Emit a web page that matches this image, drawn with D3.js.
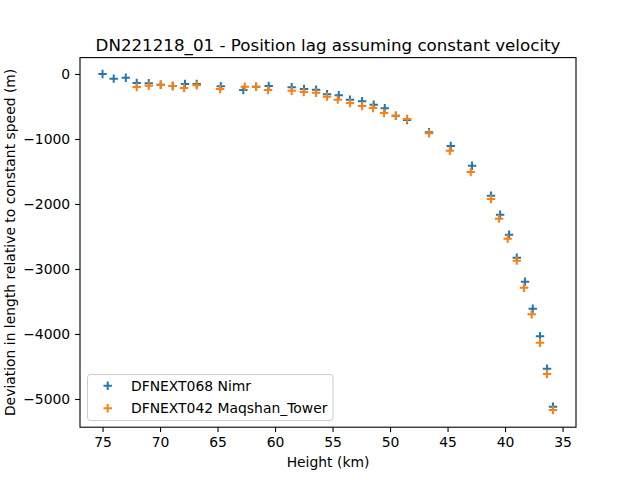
<!DOCTYPE html>
<html><head><meta charset="utf-8">
<script src="https://cdn.jsdelivr.net/npm/d3@7"></script>
<style>body{margin:0;background:#fff}svg{display:block}text{font-family:"DejaVu Sans",sans-serif;fill:#000}</style>
</head><body>
<script>
const titleText = "DN221218_01 - Position lag assuming constant velocity";
const xLabel = "Height (km)";
const yLabel = "Deviation in length relative to constant speed (m)";
const seriesNames = ["DFNEXT068 Nimr", "DFNEXT042 Maqshan_Tower"];
const seriesColors = ["#1f77b4", "#ff7f0e"];
const xTicks = [75, 70, 65, 60, 55, 50, 45, 40, 35];
const yTicks = [0, -1000, -2000, -3000, -4000, -5000];

const nimrHeight = [75.0, 74.03, 72.98, 72.03, 70.98, 69.94, 68.90, 67.83, 66.81, 64.72, 62.76, 61.65, 60.55, 58.55, 57.48, 56.43, 55.48, 54.46, 53.48, 52.43, 51.42, 50.46, 49.50, 48.52, 46.61, 44.72, 42.87, 41.22, 40.43, 39.65, 38.98, 38.26, 37.59, 36.96, 36.35, 35.83];
const nimrDev    = [0, -72, -57, -138, -143, -165, -185, -154, -154, -189, -246, -195, -185, -205, -231, -242, -312, -328, -395, -420, -472, -528, -642, -708, -897, -1108, -1411, -1872, -2165, -2472, -2826, -3195, -3611, -4035, -4534, -5118];
const maqHeight  = [72.03, 70.98, 69.94, 68.90, 67.91, 66.81, 64.78, 62.63, 61.65, 60.61, 58.55, 57.50, 56.43, 55.48, 54.55, 53.48, 52.43, 51.48, 50.52, 49.50, 48.52, 46.61, 44.80, 42.98, 41.22, 40.52, 39.77, 38.98, 38.35, 37.68, 36.96, 36.35, 35.83];
const maqDev     = [-200, -180, -165, -185, -215, -174, -231, -195, -195, -246, -257, -277, -288, -349, -395, -446, -492, -523, -600, -642, -692, -912, -1180, -1508, -1923, -2226, -2534, -2872, -3288, -3697, -4134, -4615, -5169];

const W = 640, H = 480;
const L = 80, R = 576, T = 57.6, B = 427.2;
const FS = 13.9, TFS = 16.7;
const svg = d3.select("body").append("svg").attr("width", W).attr("height", H);

const x = d3.scaleLinear().domain([76.96, 33.83]).range([L, R]);
const y = d3.scaleLinear().domain([-5434, 252]).range([B, T]);

const series = [
  nimrHeight.map((h, i) => ({h, d: nimrDev[i]})),
  maqHeight.map((h, i) => ({h, d: maqDev[i]}))
];

function plusPath(s) { return `M${-s},0H${s}M0,${-s}V${s}`; }

series.forEach((pts, si) => {
  svg.append("g").selectAll("path").data(pts).join("path")
    .attr("transform", p => `translate(${x(p.h)},${y(p.d)})`)
    .attr("d", plusPath(4.2))
    .attr("stroke", seriesColors[si]).attr("stroke-width", 2).attr("fill", "none");
});

const fmt = v => (v < 0 ? "\u2212" + Math.abs(v) : String(v));
const xAxis = svg.append("g").attr("transform", `translate(0,${B})`)
  .call(d3.axisBottom(x).tickValues(xTicks).tickSize(4.9).tickPadding(4.9).tickFormat(d => d));
const yAxis = svg.append("g").attr("transform", `translate(${L},0)`)
  .call(d3.axisLeft(y).tickValues(yTicks).tickSize(4.9).tickPadding(4.9).tickFormat(fmt));
[xAxis, yAxis].forEach(g => {
  g.select(".domain").remove();
  g.selectAll("line").attr("stroke", "#000").attr("stroke-width", 1.1);
  g.selectAll("text").attr("font-size", FS).attr("font-family", "DejaVu Sans, sans-serif").attr("fill", "#000");
});

svg.append("rect").attr("x", L).attr("y", T).attr("width", R - L).attr("height", B - T)
  .attr("fill", "none").attr("stroke", "#000").attr("stroke-width", 1.1);

svg.append("text").attr("x", (L + R) / 2).attr("y", 50.5).attr("text-anchor", "middle")
  .attr("font-size", TFS).text(titleText);
svg.append("text").attr("x", (L + R) / 2).attr("y", 467).attr("text-anchor", "middle")
  .attr("font-size", FS).text(xLabel);
svg.append("text").attr("transform", `translate(15,${(T + B) / 2}) rotate(-90)`)
  .attr("text-anchor", "middle").attr("font-size", FS).text(yLabel);

const lg = svg.append("g");
lg.append("rect").attr("x", 87.5).attr("y", 374.5).attr("width", 245.5).attr("height", 46)
  .attr("rx", 3).attr("fill", "#fff").attr("fill-opacity", 0.8).attr("stroke", "#ccc").attr("stroke-width", 1);
seriesNames.forEach((name, i) => {
  const cy = 385.7 + i * 22.6;
  lg.append("path").attr("transform", `translate(107.7,${cy})`).attr("d", plusPath(4.2))
    .attr("stroke", seriesColors[i]).attr("stroke-width", 2).attr("fill", "none");
  lg.append("text").attr("x", 131).attr("y", cy).attr("dy", "0.36em").attr("font-size", FS).text(name);
});
</script>
</body></html>
